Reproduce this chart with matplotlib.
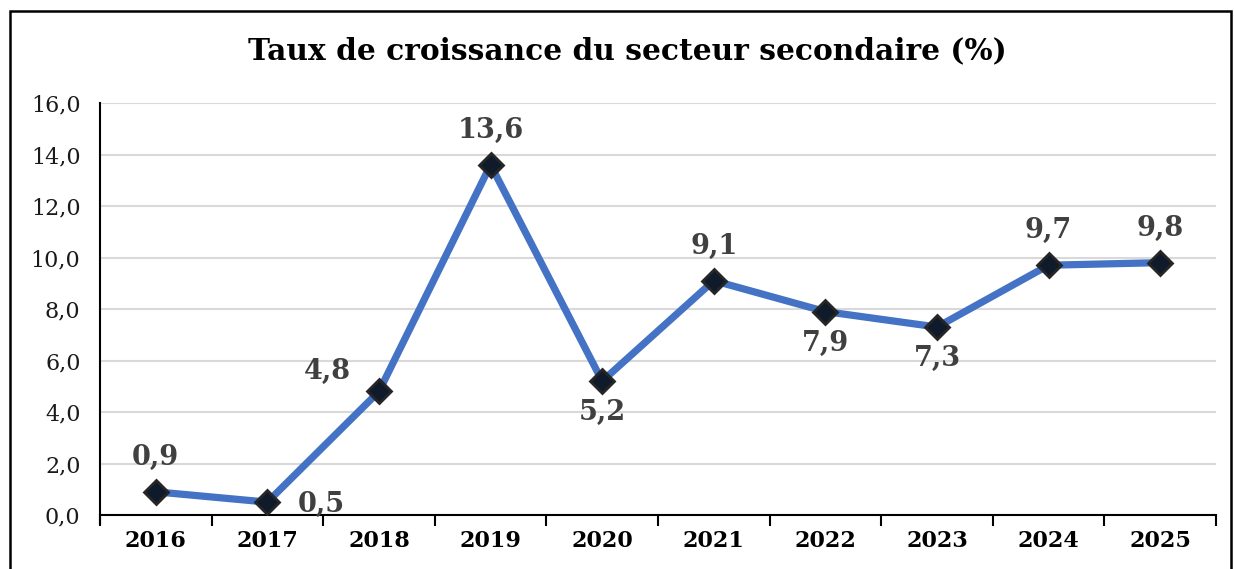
import matplotlib
matplotlib.use("Agg")
import matplotlib.pyplot as plt
from matplotlib.patches import Rectangle

years = ["2016", "2017", "2018", "2019", "2020", "2021", "2022", "2023", "2024", "2025"]
values = [0.9, 0.5, 4.8, 13.6, 5.2, 9.1, 7.9, 7.3, 9.7, 9.8]
label_pos = ["above", "right", "left", "above", "below", "above", "below", "below", "above", "above"]
yticks = [0, 2, 4, 6, 8, 10, 12, 14, 16]

plt.rcParams['font.family'] = ['DejaVu Serif']

fig = plt.figure(figsize=(12.34, 5.69), dpi=100)
ax = fig.add_axes([100/1234, 1-515/569, 1116/1234, 412/569])

x = list(range(len(years)))
ax.plot(x, values, color="#4472C4", lw=5.2, zorder=3, solid_joinstyle="round")
ax.plot(x, values, ls="none", marker="D", ms=12.5, mfc="#0f1a2b", mec="#262626",
        mew=2, zorder=4)

for xi, v, p in zip(x, values, label_pos):
    lab = f"{v:.1f}".replace(".", ",")
    kw = dict(textcoords="offset points", fontsize=19.5, fontweight="bold", color="#404040")
    if p == "above":
        ax.annotate(lab, (xi, v), xytext=(0, 15), ha="center", va="bottom", **kw)
    elif p == "below":
        ax.annotate(lab, (xi, v), xytext=(0, -13), ha="center", va="top", **kw)
    elif p == "right":
        ax.annotate(lab, (xi, v), xytext=(22, -2), ha="left", va="center", **kw)
    else:
        ax.annotate(lab, (xi, v), xytext=(-20, 14), ha="right", va="center", **kw)

ax.set_xlim(-0.5, len(years) - 0.5)
ax.set_ylim(0, 16)
ax.set_yticks(yticks)
ax.set_yticklabels([f"{t:.1f}".replace(".", ",") for t in yticks], fontsize=16, color="#1a1a1a")
ax.tick_params(axis="y", length=0, pad=14)
ax.set_xticks(x)
ax.set_xticklabels(years, fontsize=16, fontweight="bold", color="#000000")
ax.set_xticks([i - 0.5 for i in range(len(years) + 1)], minor=True)
ax.tick_params(axis="x", which="major", length=0, pad=11)
ax.tick_params(axis="x", which="minor", length=8, width=1.5, color="black", direction="out")
ax.grid(axis="y", color="#d9d9d9", lw=1.5, zorder=0)
ax.set_axisbelow(True)
for s in ["top", "right"]:
    ax.spines[s].set_visible(False)
ax.spines["left"].set_color("black")
ax.spines["left"].set_linewidth(1.5)
ax.spines["left"].set_bounds(-0.3, 16)
ax.spines["bottom"].set_color("black")
ax.spines["bottom"].set_linewidth(1.5)

fig.text(627/1234, 1-51/569, "Taux de croissance du secteur secondaire (%)",
         ha="center", va="center", fontsize=21.3, fontweight="bold", color="black")

border = Rectangle((10/1234, -0.05), 1221/1234, 1.05 - 11/569, transform=fig.transFigure,
                   fill=False, ec="black", lw=1.8, clip_on=False)
fig.patches.append(border)

fig.savefig("out.png", dpi=100)
